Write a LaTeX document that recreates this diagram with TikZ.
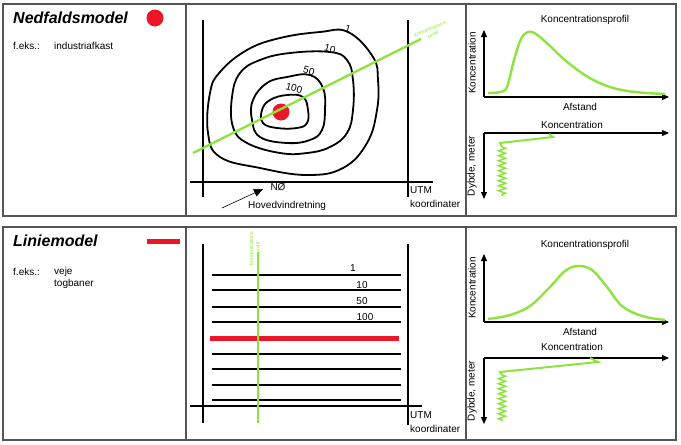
\documentclass[tikz,border=0pt]{standalone}
\usepackage{fontspec}
\setmainfont{Liberation Sans}
\usetikzlibrary{arrows.meta,decorations.pathmorphing}

\definecolor{lime}{RGB}{140,228,60}
\definecolor{dotred}{RGB}{236,22,40}
\definecolor{framegray}{RGB}{85,85,85}

\begin{document}
\begin{tikzpicture}[x=1pt, y=-1pt,
    txt/.style={font=\fontsize{10}{11}\selectfont, inner sep=0pt},
    heading/.style={font=\fontsize{16}{18}\selectfont\bfseries\itshape, inner sep=0pt, anchor=west},
    tiny/.style={font=\fontsize{5}{6.5}\selectfont, text=lime, inner sep=0pt, align=center},
    contour/.style={line width=1.8, smooth cycle, tension=0.7},
    axisarrow/.style={line width=1.1, -{Triangle[length=7,width=6]}},
    greenline/.style={lime, line width=2.4}]
    \useasboundingbox (0,0) rectangle (681,445);
    % Frames of the two panels.
        \draw[framegray, line width=1.3] (3,4) rectangle (676,216);
        \draw[framegray, line width=1.3] (186,4) -- (186,216);
        \draw[framegray, line width=1.3] (466,4) -- (466,216);
        \draw[framegray, line width=1.3] (3,227) rectangle (676,440);
        \draw[framegray, line width=1.3] (186,227) -- (186,440);
        \draw[framegray, line width=1.3] (466,227) -- (466,440);

    % Left column: model names and examples.
        \node[heading] (nedtitle) at (13,18) {Nedfaldsmodel};
        \fill[dotred] (155,18) circle (8.5);
        \node[txt, anchor=west] (feks1) at (13,46) {f.eks.:};
        \node[txt, anchor=west] (indu) at (54,46) {industriafkast};
        \node[heading] (linititle) at (13,241) {Liniemodel};
        \draw[dotred, line width=5] (147,241) -- (180,241);
        \node[txt, anchor=west] (feks2) at (13,272) {f.eks.:};
        \node[txt, anchor=west] (veje) at (54,272) {veje};
        \node[txt, anchor=west] (tog) at (54,284) {togbaner};

    % Top middle: point source with contours.
        \draw[line width=1.2] (203,20) -- (203,197);
        \draw[line width=1.2] (408,20) -- (408,197);
        \draw[line width=1.2] (190,182) -- (433,182);
        \draw[contour] plot coordinates {(348,32) (373,57) (378,80) (377,110) (367,143) (343,168)
            (307,175) (260,168) (220,157) (208,133) (210,93) (220,72) (247,50) (280,38) (320,32)};
        \draw[contour] plot coordinates {(330,52) (347,60) (353,80) (353,110) (347,133) (330,147)
            (307,153) (280,153) (247,143) (233,127) (232,97) (240,73) (260,60) (290,53)};
        \draw[contour] plot coordinates {(310,75) (323,88) (325,110) (322,130) (310,140) (287,143)
            (260,137) (252,120) (253,100) (267,83) (287,77)};
        \draw[contour] plot coordinates {(303,97) (308,110) (307,123) (297,128) (277,128)
            (263,123) (262,110) (270,100) (287,95)};
        \fill[dotred] (281,112) circle (8.5);
        \node[txt, rotate=-15] (c1) at (348,29) {1};
        \node[txt, rotate=-15] (c10) at (330,49) {10};
        \node[txt, rotate=-15] (c50) at (309,71) {50};
        \node[txt, rotate=-15] (c100) at (294,88) {100};
        \coordinate (gstart) at (193,153);
        \coordinate (gend) at (421,39);
        \draw[greenline] (gstart) -- (gend);
        \node[tiny, rotate=23] (gtag1) at (432,32) {Koncentrations-\\profil};
        \node[txt, anchor=west] (utm1) at (410,190) {UTM};
        \node[txt, anchor=west] (koord1) at (410,204) {koordinater};
        \node[txt] (no) at (278,187) {NØ};
        \node[txt, anchor=west] (wind) at (248,206) {Hovedvindretning};
        \coordinate (windtail) at (222,208);
        \coordinate (windhead) at (263,189);
        \draw[line width=0.6, -{Triangle[length=9,width=8]}] (windtail) -- (windhead);

    % Bottom middle: line source.
        \draw[line width=1.2] (203,244) -- (203,423);
        \draw[line width=1.2] (408,244) -- (408,425);
        \draw[line width=1.2] (190,406) -- (422,406);
        \foreach \y in {275,290,307,322,354,369,385,400}
            \draw[line width=1.6] (212,\y) -- (401,\y);
        \draw[dotred, line width=5] (210,338) -- (399,338);
        \node[txt] (l1) at (353,268) {1};
        \node[txt] (l10) at (362,285) {10};
        \node[txt] (l50) at (362,301) {50};
        \node[txt] (l100) at (365,317) {100};
        \coordinate (vtop) at (258,252);
        \coordinate (vbot) at (258,423);
        \draw[greenline] (vtop) -- (vbot);
        \node[tiny, rotate=90] (gtag2) at (255,248) {Koncentrations-\\profil};
        \node[txt, anchor=west] (utm2) at (410,415) {UTM};
        \node[txt, anchor=west] (koord2) at (410,429) {koordinater};

    % Top right: profiles for the point source.
        \node[txt] (prof1) at (585,20) {Koncentrationsprofil};
        \coordinate (o1) at (484,97);
        \draw[axisarrow] (o1) -- (669,97);
        \draw[axisarrow] (o1) -- (484,30);
        \node[txt, rotate=90] (kon1) at (472,63) {Koncentration};
        \node[txt] (afs1) at (580,107) {Afstand};
        \draw[greenline, smooth, tension=0.6] plot coordinates {(488,93) (500,92) (507,87) (514,60)
            (521,39) (528,32) (536,34) (550,46) (566,61) (588,77) (610,87) (635,92) (665,94)};
        \node[txt] (kon2) at (572,125) {Koncentration};
        \coordinate (o2) at (484,133);
        \draw[axisarrow] (o2) -- (669,133);
        \draw[axisarrow] (o2) -- (484,199);
        \node[txt, rotate=90] (dyb1) at (472,166) {Dybde, meter};
        \draw[greenline, line width=2] (549,134) -- (553,137) -- (500,143) -- (502,147);
        \draw[greenline, line width=1.5, decorate, decoration={zigzag, segment length=5, amplitude=3.5}]
            (502,147) -- (502,196);

    % Bottom right: profiles for the line source.
        \node[txt] (prof2) at (585,245) {Koncentrationsprofil};
        \coordinate (o3) at (484,322);
        \draw[axisarrow] (o3) -- (669,322);
        \draw[axisarrow] (o3) -- (484,254);
        \node[txt, rotate=90] (kon3) at (472,288) {Koncentration};
        \node[txt] (afs2) at (580,332) {Afstand};
        \draw[greenline, smooth, tension=0.6] plot coordinates {(488,319) (510,315) (530,306)
            (550,287) (565,271) (578,266) (592,270) (607,287) (622,306) (642,316) (665,320)};
        \node[txt] (kon4) at (572,347) {Koncentration};
        \coordinate (o4) at (484,358);
        \draw[axisarrow] (o4) -- (669,358);
        \draw[axisarrow] (o4) -- (484,424);
        \node[txt, rotate=90] (dyb2) at (472,391) {Dybde, meter};
        \draw[greenline, line width=2] (590,358) -- (598,362) -- (500,372) -- (502,375);
        \draw[greenline, line width=1.5, decorate, decoration={zigzag, segment length=5, amplitude=3.5}]
            (502,375) -- (502,421);
\end{tikzpicture}
\end{document}
